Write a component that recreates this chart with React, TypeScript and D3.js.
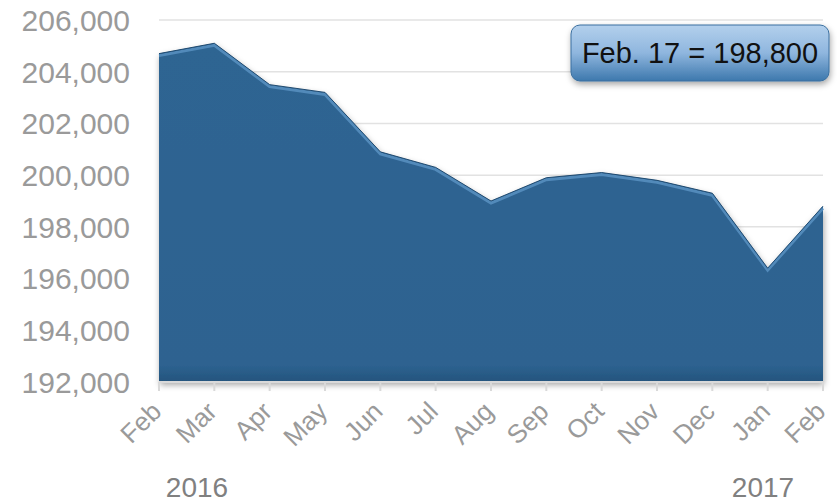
import React from "react";
import * as d3 from "d3";

const months = ["Feb", "Mar", "Apr", "May", "Jun", "Jul", "Aug", "Sep", "Oct", "Nov", "Dec", "Jan", "Feb"];
const values = [204700, 205100, 203500, 203200, 200900, 200300, 199000, 199900, 200100, 199800, 199300, 196400, 198800];
const yTicks = [192000, 194000, 196000, 198000, 200000, 202000, 204000, 206000];
const yearLabels = [
  { idx: 0, label: "2016" },
  { idx: 12, label: "2017" },
];
const calloutText = "Feb. 17 = 198,800";

const W = 837;
const H = 502;
const left = 159;
const right = 823;
const top = 20;
const bottom = 382;

export default function App() {
  const idx = months.map((_, i) => i);
  const x = d3.scaleLinear().domain([0, months.length - 1]).range([left, right]);
  const y = d3.scaleLinear().domain([192000, 206000]).range([bottom, top]);
  const area = d3
    .area<number>()
    .x((_, i) => x(i))
    .y0(y(192000))
    .y1((d) => y(d));
  const line = d3
    .line<number>()
    .x((_, i) => x(i))
    .y((d) => y(d));
  const fmt = d3.format(",");
  const font = "'Liberation Sans', Arial, sans-serif";
  return (
    <svg width={W} height={H} style={{ position: "absolute", left: 0, top: 0, display: "block" }}>
      <defs>
        <filter id="shadow" x="-10%" y="-10%" width="120%" height="130%">
          <feDropShadow dx="1" dy="3" stdDeviation="3" floodColor="#000" floodOpacity="0.35" />
        </filter>
        <linearGradient id="boxGrad" x1="0" y1="0" x2="0" y2="1">
          <stop offset="0%" stopColor="#b3d0ec" />
          <stop offset="50%" stopColor="#8fb6de" />
          <stop offset="100%" stopColor="#3d78ad" />
        </linearGradient>
        <linearGradient id="areaGrad" x1="0" y1="0" x2="0" y2="1">
          <stop offset="0%" stopColor="#2e6592" />
          <stop offset="95%" stopColor="#2d6290" />
          <stop offset="100%" stopColor="#24547d" />
        </linearGradient>
      </defs>
      {yTicks.map((t) => (
        <line key={t} x1={left} x2={right} y1={y(t)} y2={y(t)} stroke="#e2e2e2" strokeWidth={1.5} />
      ))}
      {yTicks.map((t) => (
        <text
          key={"l" + t}
          x={130}
          y={y(t)}
          dy="0.36em"
          textAnchor="end"
          fontFamily={font}
          fontSize={30}
          fill="#9a9a9a"
        >
          {fmt(t)}
        </text>
      ))}
      <g filter="url(#shadow)">
        <path d={area(values) || ""} fill="url(#areaGrad)" />
      </g>
      <path d={line(values) || ""} fill="none" stroke="#5b93c4" strokeWidth={3} transform="translate(0,2)" opacity={0.8} />
      <path d={line(values) || ""} fill="none" stroke="#1f4a70" strokeWidth={1} />
      <line x1={left} x2={right} y1={bottom} y2={bottom} stroke="#d9d9d9" strokeWidth={2} />
      {idx.map((i) => (
        <line key={"t" + i} x1={x(i)} x2={x(i)} y1={bottom} y2={bottom + 9} stroke="#d9d9d9" strokeWidth={2} />
      ))}
      {months.map((m, i) => (
        <text
          key={"m" + i}
          transform={`translate(${x(i) + 4},${bottom + 31}) rotate(-45)`}
          textAnchor="end"
          fontFamily={font}
          fontSize={26}
          fill="#9a9a9a"
        >
          {m}
        </text>
      ))}
      {yearLabels.map((yl) => (
        <text
          key={yl.label}
          x={x(yl.idx) + (yl.idx === 0 ? 38 : -60)}
          y={497}
          textAnchor="middle"
          fontFamily={font}
          fontSize={28}
          fill="#808080"
        >
          {yl.label}
        </text>
      ))}
      <g filter="url(#shadow)">
        <rect x={571} y={25} width={258} height={56} rx={9} fill="url(#boxGrad)" stroke="#3a6f9f" strokeWidth={1} />
      </g>
      <text x={700} y={53} dy="0.35em" textAnchor="middle" fontFamily={font} fontSize={29} fill="#111">
        {calloutText}
      </text>
    </svg>
  );
}
